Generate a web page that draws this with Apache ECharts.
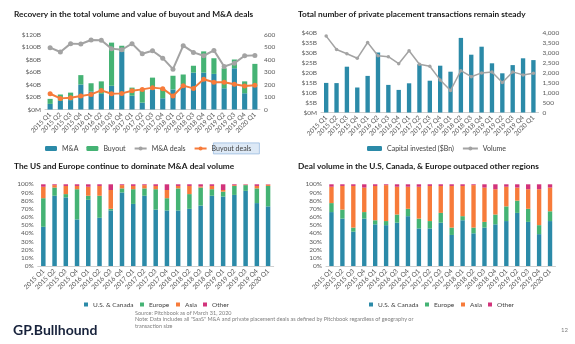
<!DOCTYPE html>
<html><head><meta charset="utf-8">
<script src="https://cdn.jsdelivr.net/npm/echarts@6/dist/echarts.min.js"></script>
<style>html,body{margin:0;padding:0;background:#fff}#c{width:575px;height:344px}</style>
</head><body><div id="c"></div>
<script>
const quarters = ['2015 Q1','2015 Q2','2015 Q3','2015 Q4','2016 Q1','2016 Q2','2016 Q3','2016 Q4','2017 Q1','2017 Q2','2017 Q3','2017 Q4','2018 Q1','2018 Q2','2018 Q3','2018 Q4','2019 Q1','2019 Q2','2019 Q3','2019 Q4','2020 Q1'];
// Chart 1 ($B values, deal counts)
const maValue     = [9,14,15,40,29,25,38,93,22,11,32,18,32,40,59,59,57,34,66,26,37];
const buyoutValue = [8,10,12,15,13,20,69,9,13,20,19,15,22,16,11,34,25,32,14,19,36];
const maDeals     = [495,460,527,524,556,554,487,478,527,446,470,411,323,511,457,430,473,344,371,430,433];
const buyoutDeals = [126,89,94,108,121,153,126,129,150,161,175,167,108,191,169,242,218,218,202,188,194];
// Chart 2
const capitalInvested = [14.8,14.7,22.9,12.5,18.3,30.0,13.8,11.3,14.6,24.1,15.9,23.4,20.4,37.3,28.9,32.9,24.6,19.6,23.7,27.1,26.2];
const ppVolume        = [3820,3150,2940,2710,3500,2840,2790,2440,3090,2410,2310,1630,1100,2090,1790,1980,2030,1500,2030,1880,1960];
// Chart 3 (M&A share %)
const maUS    = [48,86,84,57,81,59,68,90,76,86,69,68,68,70,74,86,85,87,92,77,73];
const maEU    = [35,10,4,37,5,27,2,5,18,9,25,15,27,18,22,8,6,11,7,18,25];
const maAsia  = [14,3,10,4,11,12,23,4,4,4,4,10,3,10,1.5,4,2,1,0.5,3,1.5];
const maOther = [3,1,2,2,3,2,7,1,2,1,2,7,2,2,2.5,2,7,1,0.5,2,0.5];
// Chart 4 (private placement share %)
const ppUS    = [66,58,42,58,51,50,53,61,46,46,53,38,56,40,47,51,55,65,54,39,55];
const ppEU    = [11,11,5,8,5,5,10,9,12,9,12,9,5,7,7,12,18,15,16,11,12];
const ppAsia  = [20,29,51,30,42,44,34,27,39,43,33,51,37,52,42,31,24,16,24,44,29];
const ppOther = [3,2,2,4,2,1,3,3,3,2,2,2,2,1,4,6,3,4,6,6,4];
// Tick labels
const ticksL1 = ['$0M','$20B','$40B','$60B','$80B','$100B','$120B'];
const ticksR1 = ['0','100','200','300','400','500','600'];
const ticksL2 = ['$0M','$5B','$10B','$15B','$20B','$25B','$30B','$35B','$40B'];
const ticksR2 = ['0','500','1,000','1,500','2,000','2,500','3,000','3,500','4,000'];
const ticksPct = ['0%','10%','20%','30%','40%','50%','60%','70%','80%','90%','100%'];
const regions = ['U.S. & Canada','Europe','Asia','Other'];

const C = {blue:'#2b8aa8', green:'#45b374', orange:'#f77b3a', pink:'#d2337b', gray:'#a3a3a3'};
const FONT = 'Lato, "DejaVu Sans", sans-serif';
const axisTxt = {color:'#595959', fontSize:6.5, fontFamily:FONT};

function xAx(gi){
  return {type:'category', gridIndex:gi, data:quarters,
    axisLine:{show:true, lineStyle:{color:'#d0d0d0'}}, axisTick:{show:false},
    axisLabel:Object.assign({rotate:45, interval:0, margin:4}, axisTxt)};
}
function yAx(gi, max, interval, ticks, extra){
  return Object.assign({type:'value', gridIndex:gi, min:0, max:max, interval:interval,
    splitLine:{show:false}, axisLine:{show:false}, axisTick:{show:false},
    axisLabel:Object.assign({margin:4, formatter:v=>ticks[Math.round(v/interval)]}, axisTxt)}, extra||{});
}
const titleStyle = {fontSize:8.3, fontWeight:'bold', color:'#1a1a1a', fontFamily:FONT};
const legText = {fontSize:7, color:'#404040', fontFamily:FONT};
const regionOffsets = [0, 56, 92, 119];
function regionLegends(x0){
  return regions.map((r,i)=>({data:[r], left:x0+regionOffsets[i], top:301, padding:0, itemWidth:4, itemHeight:4, icon:'rect', textStyle:{fontSize:6.5, color:'#404040', fontFamily:FONT}}));
}

const chart = echarts.init(document.getElementById('c'));
chart.setOption({
  animation:false,
  title:[
    {text:'Recovery in the total volume and value of buyout and M&A deals', left:14, top:10, padding:0, textStyle:titleStyle},
    {text:'Total number of private placement transactions remain steady', left:298, top:10, padding:0, textStyle:titleStyle},
    {text:'The US and Europe continue to dominate M&A deal volume', left:14, top:162, padding:0, textStyle:titleStyle},
    {text:'Deal volume in the U.S, Canada, & Europe outpaced other regions', left:298, top:162, padding:0, textStyle:titleStyle}
  ],
  grid:[
    {left:45, top:34.5, width:215, height:75},
    {left:321, top:32.5, width:217.6, height:80},
    {left:37.7, top:184.3, width:236, height:81.7},
    {left:326, top:184.3, width:229.5, height:81.7}
  ],
  xAxis:[xAx(0), xAx(1), xAx(2), xAx(3)],
  yAxis:[
    yAx(0,120,20,ticksL1),
    yAx(0,600,100,ticksR1,{position:'right'}),
    yAx(1,40,5,ticksL2),
    yAx(1,4000,500,ticksR2,{position:'right'}),
    yAx(2,100,10,ticksPct),
    yAx(3,100,10,ticksPct)
  ],
  legend:[
    {data:['M&A','Buyout','M&A deals','Buyout deals'], left:45, top:145, padding:0, itemWidth:12, itemHeight:5, itemGap:8, textStyle:legText},
    {data:['Capital invested ($Bn)','Volume'], left:367, top:145, padding:0, itemWidth:15, itemHeight:5, itemGap:8, textStyle:legText}
  ].concat(regionLegends(84), regionLegends(369)),
  series:[
    {name:'M&A', type:'bar', xAxisIndex:0, yAxisIndex:0, stack:'v1', data:maValue, barWidth:'50%', itemStyle:{color:C.blue}},
    {name:'Buyout', type:'bar', xAxisIndex:0, yAxisIndex:0, stack:'v1', data:buyoutValue, barWidth:'50%', itemStyle:{color:C.green}},
    {name:'M&A deals', type:'line', xAxisIndex:0, yAxisIndex:1, data:maDeals, symbol:'circle', symbolSize:5, lineStyle:{width:2, color:C.gray}, itemStyle:{color:C.gray}},
    {name:'Buyout deals', type:'line', xAxisIndex:0, yAxisIndex:1, data:buyoutDeals, symbol:'circle', symbolSize:5, lineStyle:{width:2, color:C.orange}, itemStyle:{color:C.orange}},
    {name:'Capital invested ($Bn)', type:'bar', xAxisIndex:1, yAxisIndex:2, data:capitalInvested, barWidth:'42%', itemStyle:{color:C.blue}},
    {name:'Volume', type:'line', xAxisIndex:1, yAxisIndex:3, data:ppVolume, symbol:'circle', symbolSize:3.5, lineStyle:{width:1.5, color:C.gray}, itemStyle:{color:C.gray}},
    {name:regions[0], type:'bar', xAxisIndex:2, yAxisIndex:4, stack:'m', data:maUS, barWidth:'40%', itemStyle:{color:C.blue}},
    {name:regions[1], type:'bar', xAxisIndex:2, yAxisIndex:4, stack:'m', data:maEU, itemStyle:{color:C.green}},
    {name:regions[2], type:'bar', xAxisIndex:2, yAxisIndex:4, stack:'m', data:maAsia, itemStyle:{color:C.orange}},
    {name:regions[3], type:'bar', xAxisIndex:2, yAxisIndex:4, stack:'m', data:maOther, itemStyle:{color:C.pink}},
    {name:regions[0], type:'bar', xAxisIndex:3, yAxisIndex:5, stack:'p', data:ppUS, barWidth:'40%', itemStyle:{color:C.blue}},
    {name:regions[1], type:'bar', xAxisIndex:3, yAxisIndex:5, stack:'p', data:ppEU, itemStyle:{color:C.green}},
    {name:regions[2], type:'bar', xAxisIndex:3, yAxisIndex:5, stack:'p', data:ppAsia, itemStyle:{color:C.orange}},
    {name:regions[3], type:'bar', xAxisIndex:3, yAxisIndex:5, stack:'p', data:ppOther, itemStyle:{color:C.pink}}
  ],
  graphic:[
    {type:'rect', left:213, top:142.5, shape:{width:46, height:11}, style:{fill:'#dde9f6', stroke:'#9bbbe0', lineWidth:0.8}, z:-1},
    {type:'text', left:13, top:323, style:{text:'GP.Bullhound', fontSize:14, fontWeight:'bold', fill:'#17223b', fontFamily:FONT}},
    {type:'text', left:135, top:309.5, style:{text:'Source: Pitchbook as of March 31, 2020\nNote: Data includes all "SaaS" M&A and private placement deals as defined by Pitchbook regardless of geography or\ntransaction size', fontSize:5.5, lineHeight:6.8, fill:'#7f7f7f', fontFamily:FONT}},
    {type:'text', left:561, top:327, style:{text:'12', fontSize:6, fill:'#7f7f7f', fontFamily:FONT}}
  ]
});
</script></body></html>
